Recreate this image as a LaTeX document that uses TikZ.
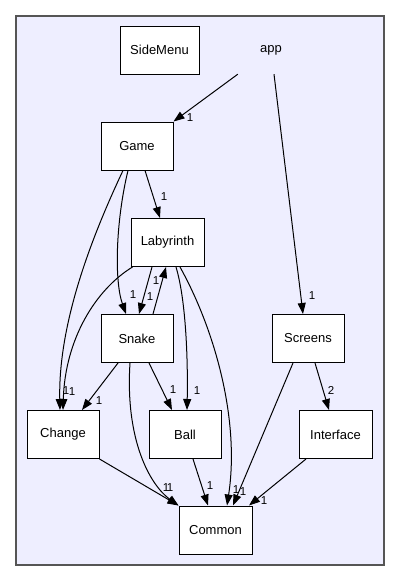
\documentclass[tikz,border=0pt]{standalone}
\usepackage{fontspec}
\setmainfont{Liberation Sans}
\usetikzlibrary{arrows.meta}
\definecolor{clusterbg}{RGB}{238,238,255}
\definecolor{clusterline}{RGB}{85,85,85}
\tikzset{
  dirbox/.style={draw, fill=white, line width=1pt, minimum width=72pt,
    minimum height=48pt, inner sep=0pt, font=\fontsize{13}{15}\selectfont},
  dirname/.style={minimum width=72pt, minimum height=48pt, inner sep=0pt,
    font=\fontsize{13}{15}\selectfont},
  dep/.style={-{Triangle[length=11pt,width=8pt]}, line width=1pt},
  lbl/.style={font=\fontsize{11.5}{13}\selectfont, inner sep=0pt},
}

\begin{document}
\begin{tikzpicture}[x=1pt,y=-1pt]
    \useasboundingbox (0,0) rectangle (400,581);
    \draw[draw=clusterline, fill=clusterbg, line width=1.3pt] (16,16) rectangle (384,565);

    \node[dirbox, minimum width=79pt] (SideMenu) at (159.5,50) {SideMenu};
    \node[dirname] (app) at (271,50) {app};
    \node[dirbox] (Game) at (137,146) {Game};
    \node[dirbox, minimum width=73pt] (Labyrinth) at (167.5,242.5) {Labyrinth};
    \node[dirbox] (Snake) at (137,338.5) {Snake};
    \node[dirbox] (Screens) at (308,338.5) {Screens};
    \node[dirbox] (Change) at (63,434.5) {Change};
    \node[dirbox] (Ball) at (185,434.5) {Ball};
    \node[dirbox, minimum width=73pt] (Interface) at (335.5,434.5) {Interface};
    \node[dirbox, minimum width=73pt] (Common) at (215.5,530) {Common};

    \draw[dep] ([xshift=3pt]app.south west) -- (Game.north east)
      node[lbl] at (190,118) {1};
    \draw[dep] ([xshift=3pt]app.south) -- ([xshift=-5pt]Screens.north)
      node[lbl] at (312,296) {1};

    \draw[dep] ([xshift=8pt]Game.south) -- ([xshift=-7.5pt]Labyrinth.north)
      node[lbl] at (164,197) {1};
    \draw[dep] ([xshift=-9pt]Game.south) .. controls (116,220) and (114,280) ..
      ([xshift=-11pt]Snake.north) node[lbl] at (133,295) {1};
    \draw[dep] ([xshift=-14pt]Game.south) .. controls (95,230) and (58,320) ..
      ([xshift=-3pt]Change.north) node[lbl] at (66,391) {1};

    \draw[dep] ([xshift=-15.5pt]Labyrinth.south) -- ([xshift=2pt]Snake.north)
      node[lbl] at (150,297) {1};
    \draw[dep] ([xshift=16pt]Snake.north) -- ([xshift=-1.5pt]Labyrinth.south)
      node[lbl] at (156,281) {1};
    \draw[dep] ([xshift=2pt]Labyrinth.south west) .. controls (95,290) and (65,340) ..
      (Change.north) node[lbl] at (72,392) {1};
    \draw[dep] ([xshift=8.5pt]Labyrinth.south) .. controls (186,300) and (188,360) ..
      ([xshift=2pt]Ball.north) node[lbl] at (197,391) {1};
    \draw[dep] ([xshift=12.5pt]Labyrinth.south) .. controls (215,330) and (240,420) ..
      ([xshift=11.5pt]Common.north) node[lbl] at (236,490) {1};

    \draw[dep] ([xshift=-19pt]Snake.south) -- ([xshift=19pt]Change.north)
      node[lbl] at (99,401) {1};
    \draw[dep] ([xshift=12pt]Snake.south) -- ([xshift=-13pt]Ball.north)
      node[lbl] at (173,390) {1};
    \draw[dep] ([xshift=-7pt]Snake.south) .. controls (125,440) and (150,485) ..
      ([xshift=-37pt]Common.north) node[lbl] at (170,488) {1};

    \draw[dep] (Change.south east) -- (Common.north west)
      node[lbl] at (166,488) {1};
    \draw[dep] ([xshift=8pt]Ball.south) -- ([xshift=-7.5pt]Common.north)
      node[lbl] at (210,486) {1};

    \draw[dep] ([xshift=-15pt]Screens.south) -- ([xshift=17.5pt]Common.north)
      node[lbl] at (243,492) {1};
    \draw[dep] ([xshift=7pt]Screens.south) -- ([xshift=-6.5pt]Interface.north)
      node[lbl] at (331,390) {2};
    \draw[dep] ([xshift=-29.5pt]Interface.south) -- ([xshift=33.5pt]Common.north)
      node[lbl] at (264,501) {1};
\end{tikzpicture}
\end{document}
